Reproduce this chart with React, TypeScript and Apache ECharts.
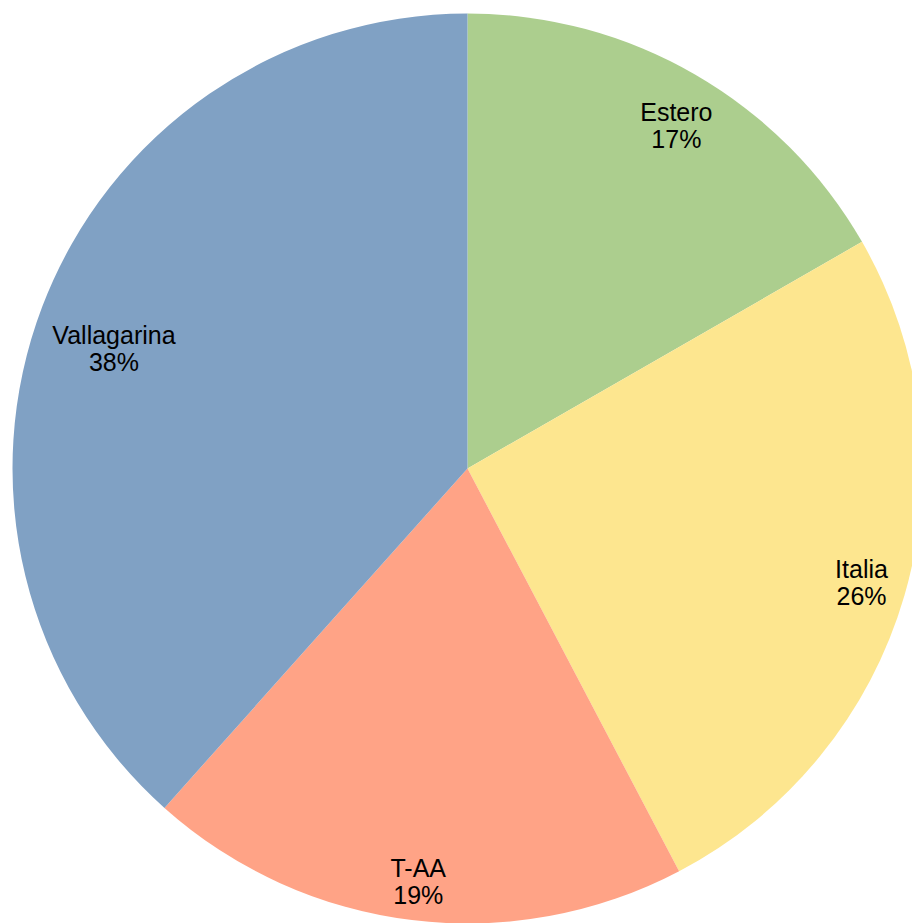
import React, { useEffect, useRef } from "react";
import * as echarts from "echarts";

const categories = ["Estero", "Italia", "T-AA", "Vallagarina"];
const values = [16.7, 25.6, 19.3, 38.4];
const colors = ["#ACCE8E", "#FDE68F", "#FFA386", "#80A1C4"];
// small label nudges (layout only)
const labelOffsets: Record<string, number[]> = {
  Estero: [7, 6],
  Italia: [7, 2],
  "T-AA": [0, 13],
  Vallagarina: [23, 24],
};

export default function App() {
  const ref = useRef<HTMLDivElement>(null);
  useEffect(() => {
    if (!ref.current) return;
    const chart = echarts.init(ref.current, null, { renderer: "svg" });
    const total = values.reduce((a, b) => a + b, 0);
    const data = categories.map((name, i) => ({
      name,
      value: values[i],
      itemStyle: { color: colors[i] },
    }));
    chart.setOption({
      animation: false,
      series: [
        {
          type: "pie",
          center: [467.5, 468.5],
          radius: [0, 455],
          startAngle: 90,
          clockwise: true,
          silent: true,
          label: { show: false },
          labelLine: { show: false },
          itemStyle: { borderWidth: 0 },
          data,
        },
        {
          type: "pie",
          center: [467.5, 468.5],
          radius: [345, 455],
          startAngle: 90,
          clockwise: true,
          silent: true,
          itemStyle: { color: "transparent", borderWidth: 0 },
          labelLine: { show: false },
          label: {
            show: true,
            position: "inside",
            color: "#000",
            fontFamily: "Liberation Sans",
            fontSize: 25,
            lineHeight: 27,
            align: "center",
            formatter: (p: any) =>
              `${p.name}\n${Math.round((p.value / total) * 100)}%`,
          },
          data: categories.map((name, i) => ({
            name,
            value: values[i],
            label: { offset: labelOffsets[name] },
          })),
        },
      ],
    });
    return () => chart.dispose();
  }, []);
  return (
    <div
      ref={ref}
      style={{ position: "fixed", left: 0, top: 0, width: 912, height: 923, background: "#fff" }}
    />
  );
}
